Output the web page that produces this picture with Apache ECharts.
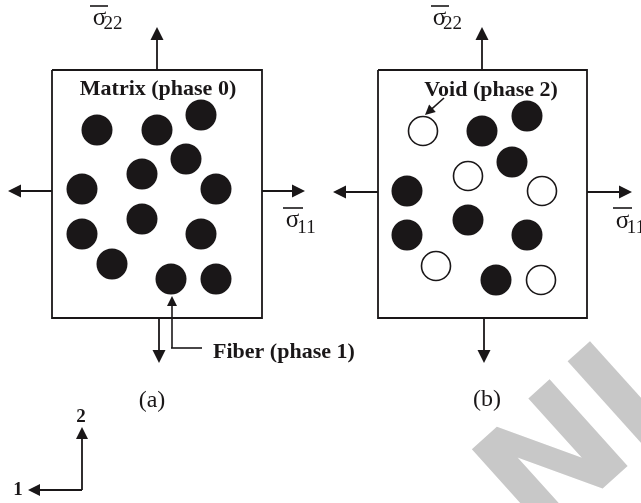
<!DOCTYPE html>
<html>
<head>
<meta charset="utf-8">
<script src="https://cdn.jsdelivr.net/npm/echarts@6/dist/echarts.min.js"></script>
<style>html,body{margin:0;padding:0;background:#fff}#c{width:641px;height:503px}</style>
</head>
<body>
<div id="c"></div>
<script>
// ---- data (diagram coordinates, y grows downward) ----
const fibersA = [[97,130],[157,130],[201,115],[186,159],[142,174],[82,189],[216,189],[142,219],[82,234],[201,234],[112,264],[171,279],[216,279]];
const fibersB = [[482,131],[527,116],[512,162],[407,191],[468,220],[407,235],[527,235],[496,280]];
const voidsB = [[423,131],[468,176],[542,191],[436,266],[541,280]];
const boxes = [
  [[52,70],[262,70],[262,318],[52,318],[52,70]],
  [[378,70],[587,70],[587,318],[378,318],[378,70]]
];
// [from, tip]
const loadArrows = [
  [[157,70],[157,27]], [[52,191],[8,191]], [[262,191],[305,191]], [[159,318],[159,363]],
  [[482,70],[482,27]], [[378,192],[333,192]], [[587,192],[632,192]], [[484,318],[484,363]]
];
const pointerArrows = [[[172,348],[172,296]], [[444,98],[425,115]]];
const triadArrows = [[[82,490],[82,427]], [[82,490],[28,490]]];
const plainSegments = [[[171,348],[202,348]]];
const overbars = [[[90,5.5],[108,5.5]], [[283,208],[303,208]], [[431,5.5],[449,5.5]], [[613,208],[632,208]]];
const captions = ['Matrix (phase 0)', 'Void (phase 2)'];
const captionPos = [[158,89],[491,90]];
const fiberCaption = 'Fiber (phase 1)';
const fiberCaptionPos = [213,352];
const panelTags = ['(a)', '(b)'];
const panelTagPos = [[152,401],[487,400]];
const sigmaPos = [[99.5,18.5],[292.5,220.5],[439.5,18.5],[622.5,221]];
const subscripts = ['22','11','22','11'];
const subPos = [[113,24],[306.5,228],[452.5,24],[636,228]];
const triadNames = ['2','1'];
const triadNamePos = [[81,417],[18,490]];
const watermark = ['N','I'];

const INK = '#1a1718';
const SERIF = '"Liberation Serif", "Times New Roman", serif';

function arrowData(list, size) {
  return list.map(([a, t]) => {
    const dx = t[0]-a[0], dy = t[1]-a[1], L = Math.hypot(dx, dy);
    return { coords: [a, [t[0]-dx/L*size/2, t[1]-dy/L*size/2]] };
  });
}
function textSeries(texts, pos, label) {
  return {
    type: 'scatter', symbolSize: 0.1, itemStyle: {color: 'rgba(0,0,0,0)', opacity: 1}, silent: true, z: 5,
    data: texts.map((t, i) => ({name: t, value: pos[i]})),
    label: Object.assign({show: true, formatter: '{b}', color: INK, opacity: 1, fontFamily: SERIF, position: 'inside'}, label)
  };
}

const chart = echarts.init(document.getElementById('c'), null, {renderer: 'canvas'});
chart.setOption({
  animation: false,
  backgroundColor: '#fff',
  grid: {left: 0, right: 0, top: 0, bottom: 0},
  xAxis: {type: 'value', min: 0, max: 641, show: false},
  yAxis: {type: 'value', min: 0, max: 503, inverse: true, show: false},
  graphic: [
    {type: 'text', x: 561, y: 470, rotation: 42*Math.PI/180, silent: true, z: -10,
     style: {text: watermark[0], font: 'bold 160px "DejaVu Sans"', fill: '#c8c8c8', align: 'center', verticalAlign: 'middle'}},
    {type: 'text', x: 629, y: 407, rotation: 42*Math.PI/180, silent: true, z: -10,
     style: {text: watermark[1], font: 'bold 160px "DejaVu Sans"', fill: '#c8c8c8', align: 'center', verticalAlign: 'middle'}}
  ],
  series: [
    {type: 'lines', coordinateSystem: 'cartesian2d', polyline: true, silent: true,
     lineStyle: {color: INK, width: 1.8, opacity: 1},
     data: boxes.map(b => ({coords: b}))},
    {type: 'lines', coordinateSystem: 'cartesian2d', silent: true,
     symbol: ['none', 'triangle'], symbolSize: 13,
     lineStyle: {color: INK, width: 1.8, opacity: 1}, itemStyle: {color: INK},
     data: arrowData(loadArrows, 13)},
    {type: 'lines', coordinateSystem: 'cartesian2d', silent: true,
     symbol: ['none', 'triangle'], symbolSize: 12,
     lineStyle: {color: INK, width: 1.8, opacity: 1},
     data: arrowData(triadArrows, 12)},
    {type: 'lines', coordinateSystem: 'cartesian2d', silent: true,
     symbol: ['none', 'triangle'], symbolSize: 10,
     lineStyle: {color: INK, width: 1.6, opacity: 1},
     data: arrowData(pointerArrows, 10)},
    {type: 'lines', coordinateSystem: 'cartesian2d', silent: true, symbol: 'none',
     lineStyle: {color: INK, width: 1.6, opacity: 1},
     data: plainSegments.concat(overbars).map(s => ({coords: s}))},
    {type: 'scatter', symbol: 'circle', symbolSize: 31, silent: true, z: 3,
     itemStyle: {color: INK, opacity: 1}, data: fibersA.concat(fibersB)},
    {type: 'scatter', symbol: 'circle', symbolSize: 29, silent: true, z: 3,
     itemStyle: {color: '#fff', borderColor: INK, borderWidth: 1.6, opacity: 1}, data: voidsB},
    textSeries(captions, captionPos, {fontSize: 22, fontWeight: 'bold'}),
    textSeries([fiberCaption], [fiberCaptionPos], {fontSize: 22, fontWeight: 'bold', position: 'right', distance: 0}),
    textSeries(panelTags, panelTagPos, {fontSize: 24}),
    textSeries(sigmaPos.map(() => 'σ'), sigmaPos, {fontSize: 25}),
    textSeries(subscripts, subPos, {fontSize: 19}),
    textSeries(triadNames, triadNamePos, {fontSize: 19, fontWeight: 'bold'})
  ]
});
</script>
</body>
</html>
